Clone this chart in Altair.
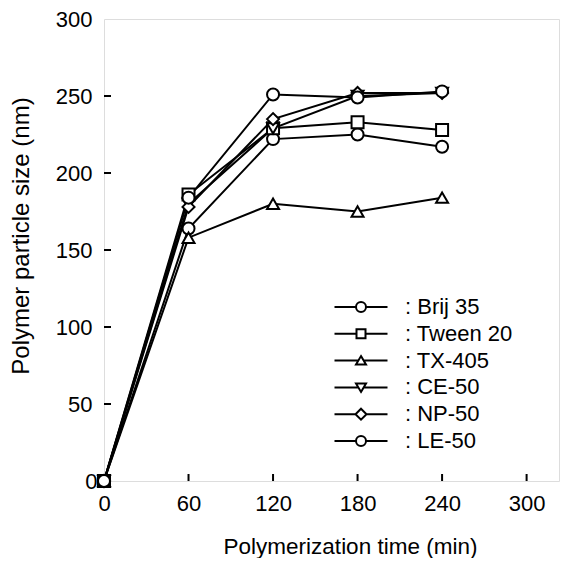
import altair as alt
import pandas as pd

# ---- data ----
times = [0, 60, 120, 180, 240]
series_names = ["Brij 35", "Tween 20", "TX-405", "CE-50", "NP-50", "LE-50"]
brij35 = [0, 164, 222, 225, 217]
tween20 = [0, 186, 229, 233, 228]
tx405 = [0, 158, 180, 175, 184]
ce50 = [0, 180, 229, 250, 252]
np50 = [0, 178, 235, 252, 252]
le50 = [0, 184, 251, 249, 253]
x_tick_values = [0, 60, 120, 180, 240, 300]
y_tick_values = [0, 50, 100, 150, 200, 250, 300]

point_shapes = ["circle", "square", "triangle-up", "triangle-down", "diamond", "circle"]
L = 5.3
legend_paths = [
    f"M-{L},0H-1M1,0H{L}M1,0A1,1 0 1,1 -1,0A1,1 0 1,1 1,0Z",
    f"M-{L},0H-0.9M0.9,0H{L}M-0.9,-0.9H0.9V0.9H-0.9Z",
    f"M-{L},0H-0.53M0.53,0H{L}M0,-0.9L1,0.8H-1Z",
    f"M-{L},0H-0.53M0.53,0H{L}M0,0.9L1,-0.8H-1Z",
    f"M-{L},0H-1.1M1.1,0H{L}M0,-1.1L1.1,0L0,1.1L-1.1,0Z",
    f"M-{L},0H-1M1,0H{L}M1,0A1,1 0 1,1 -1,0A1,1 0 1,1 1,0Z",
]

values = [brij35, tween20, tx405, ce50, np50, le50]
rows = []
for name, vals in zip(series_names, values):
    for t, v in zip(times, vals):
        rows.append({"time": t, "size": v, "series": name})
df = pd.DataFrame(rows)

xt = pd.DataFrame({"t": [v for v in x_tick_values if v > 0]})
yt = pd.DataFrame({"v": [v for v in y_tick_values if 0 < v < 300]})

FONT = "Liberation Sans"
W, H = 455, 462

xscale = alt.Scale(domain=[0, 323], nice=False, zero=False)
yscale = alt.Scale(domain=[0, 300], nice=False)

xaxis = alt.Axis(values=x_tick_values, title="Polymerization time (min)",
                 labelFontSize=22, labelPadding=12, labelFlush=False,
                 titleFontSize=22.5,
                 titleFontWeight="normal", titleX=246, titleY=72,
                 titleBaseline="alphabetic", titleAlign="center",
                 domain=False, ticks=False, grid=False,
                 labelColor="black", titleColor="black", labelFont=FONT, titleFont=FONT)
yaxis = alt.Axis(values=y_tick_values, title="Polymer particle size (nm)",
                 labelFontSize=22, labelFlush=False,
                 labelPadding={"condition": {"test": "datum.value === 0", "value": 7}, "value": 12},
                 titleFontSize=24,
                 titleFontWeight="normal", titleX=-83, titleY=216.5,
                 titleAngle=270, titleBaseline="middle", titleAlign="center",
                 domain=False, ticks=False, grid=False,
                 labelColor="black", titleColor="black", labelFont=FONT, titleFont=FONT)

lines = alt.Chart(df).mark_line(color="black", strokeWidth=2).encode(
    x=alt.X("time:Q", scale=xscale, axis=xaxis),
    y=alt.Y("size:Q", scale=yscale, axis=yaxis),
    detail="series:N",
    order="time:Q",
)

xticks = alt.Chart(xt).mark_rule(color="black", strokeWidth=2).encode(
    x=alt.X("t:Q", scale=xscale),
    y=alt.value(H), y2=alt.value(H - 7),
)
yticks = alt.Chart(yt).mark_rule(color="black", strokeWidth=2).encode(
    y=alt.Y("v:Q", scale=yscale),
    x=alt.value(0), x2=alt.value(7),
)

points = alt.Chart(df).mark_point(filled=True, fill="white", stroke="black",
                                  strokeWidth=2, size=144, opacity=1).encode(
    x=alt.X("time:Q", scale=xscale),
    y=alt.Y("size:Q", scale=yscale),
    shape=alt.Shape("series:N", scale=alt.Scale(domain=series_names, range=point_shapes),
                    legend=None),
)

legend_layer = alt.Chart(df).mark_point(opacity=0, stroke="black", strokeWidth=2).encode(
    x=alt.X("time:Q", scale=xscale),
    y=alt.Y("size:Q", scale=yscale),
    shape=alt.Shape("series:N", scale=alt.Scale(domain=series_names, range=legend_paths),
                    legend=alt.Legend(title=None, orient="none", legendX=246, legendY=277,
                                      symbolSize=100, symbolOpacity=1,
                                      symbolStrokeColor="black", symbolStrokeWidth=2,
                                      symbolFillColor="white",
                                      labelFont=FONT, labelFontSize=22, labelColor="black",
                                      labelOffset=33, rowPadding=4.8, padding=0,
                                      labelExpr="': ' + datum.label")),
)

chart = alt.layer(lines, xticks, yticks, points, legend_layer).resolve_scale(
    shape="independent"
).properties(
    width=W, height=H,
    autosize=alt.AutoSizeParams(type="none"),
    padding={"left": 96, "top": 11, "right": 1, "bottom": 77},
).configure_view(stroke="black", strokeWidth=2).configure(background="white")

chart.save("out.html", embed_options={"renderer": "svg", "actions": False})
